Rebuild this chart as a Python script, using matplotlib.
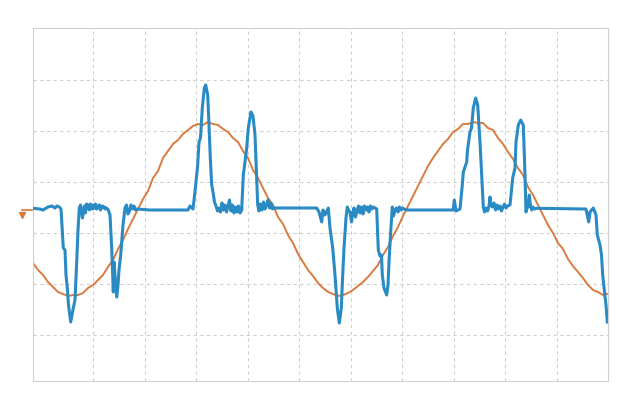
import numpy as np
import matplotlib
matplotlib.use("Agg")
import matplotlib.pyplot as plt

# Channel 1 (blue) : sample index / level (one row per stretch)
ch1_t = [0, 7, 10, 15, 19, 22, 24, 26.3, 28, 30.3, 32, 33, 34.3, 35.5, 37.7, 39, 40.3, 42, 43.7, 45,
         46.3, 47.5, 48.5, 49.5, 50.5, 51.5, 52.5, 53.5, 54.5, 55.5, 56.5, 57.5, 58.5, 59.5, 60.5,
         61.5, 62.5, 63.5, 64.5, 65.5, 66.5, 67.5, 68.5, 69.5, 70.5, 71.5, 72.5, 73.5, 75.3,
         77, 78.7, 79.5, 80.3, 81, 82, 83.7, 85, 86, 87.7, 90,
         92, 93.5, 95, 96.5, 98, 99.5, 101, 102.5, 104,
         117, 155, 157, 160,
         162.7, 164.7, 166, 167.5, 169.3, 171.3, 172.7, 174.7, 176, 177.3, 178.7,
         180, 181.5, 183, 184.5, 186, 187.5, 189, 190.5, 192, 193.5, 195, 196.5, 198, 199.5, 201,
         202.5, 204, 205.5, 207, 208.7,
         210.3, 212, 213.5, 215.3, 218, 220, 222, 223.5,
         224.7, 226, 227.5, 229, 230.5, 232, 233.5, 235, 236.5, 238, 239.5, 241,
         257, 283.7, 286, 288.7, 290, 292, 295.3,
         297, 299.7, 302, 304.3, 306.3, 308.3, 309.7, 311, 313,
         314.3, 315.5, 317, 318.5, 319.5, 321, 322.5, 324, 325.5, 327, 328.5, 330, 331.5, 333,
         334.5, 336, 337.5, 339, 340.5, 342, 343.7,
         345.3, 347, 348.5, 349.3, 351, 353.7, 355, 356, 357.5,
         359.3, 360.5, 362, 363.5, 365, 366.5, 368, 369.5, 371, 373.7,
         420.3, 421.3, 423, 427,
         429.3, 430.3, 433.7, 434.5, 437, 438.5, 440.3, 442.7, 444.7, 447, 448.7,
         450.3, 451.5, 453, 454.5, 456, 457, 458, 459.3, 461, 462.5, 464, 465.5, 467, 468.5, 470,
         471.5, 473, 474.5, 477,
         479.7, 482, 483, 485.3, 487.7, 490.3, 492,
         493, 494, 495, 496.3, 497.5, 498.7, 500, 501.5, 503.7,
         553, 555.7, 557, 560.3, 563, 564.3, 567, 568.5, 569.7, 571.5, 573, 574.3]
ch1_v = [-0.3, -1, -2, 1, 2, 0, 2, 1, -1, -40, -42, -67, -80, -97, -114, -107, -100, -92, -54, -22,
         0, 3, -4, -10, -2, 2, -5, 4, 0, 3, -2, 4, 1, -1, 3,
         0, 4, -1, 2, 0, 3, -2, 1, 2, 0, 1, -1, 0, -2,
         -7, -40, -62, -84, -54, -67, -89, -77, -62, -47, -17,
         0, 3, -6, -3, 3, -1, 2, -2, -1,
         -2, -2, 2, -1,
         23, 43, 66, 70, 100, 120, 123, 113, 83, 50, 23,
         16, 6, 2, -3, 0, -4, 5, -2, 3, -4, 2, 8, -3, 3, -5,
         1, -4, 2, -5, -2,
         33, 46, 58, 80, 96, 92, 73, 33,
         3, -3, 4, -2, 6, -1, 3, 8, 0, 5, -1, 0,
         0, 0, -4, -14, -2, -7, 0,
         -20, -40, -67, -100, -115, -100, -67, -40, -10,
         1, -2, -4, -14, -6, 0, -9, -3, 2, -5, 1, -6, 2, -2,
         1, -4, 2, -1, 1, 0, -1,
         -42, -48, -47, -67, -80, -87, -77, -54, -27,
         1, -8, -2, 0, -4, 1, -2, 0, -1, -2,
         -2, 8, -3, -1,
         23, 36, 46, 58, 76, 80, 100, 110, 103, 66, 33,
         1, -4, 0, -3, 2, 11, 3, 1, 5, -2, 3, -1, 2, -3, 1,
         4, 0, 2, 3,
         30, 40, 66, 83, 88, 83, 33,
         -4, 0, 1, 13, 2, -2, 1, -1, -0.3,
         -1, -14, -4, 0, -7, -27, -37, -47, -67, -84, -97, -114]

# Channel 2 (orange), one reading every 5 samples
ch2_t = list(range(0, 571, 5)) + [574]
ch2_v = [-55, -62, -67, -74, -79, -84, -86, -88, -87, -87,
         -85, -80, -77, -72, -67, -59, -52, -41, -32, -21,
         -11, -1, 9, 17, 30, 37, 50, 57, 64, 68,
         74, 78, 82, 84, 83, 86, 84, 83, 79, 76,
         70, 66, 57, 50, 38, 30, 20, 10, 3, -9,
         -16, -27, -35, -46, -54, -62, -68, -75, -80, -84,
         -86, -88, -87, -85, -82, -78, -74, -69, -63, -57,
         -47, -39, -28, -19, -8, 2, 12, 22, 32, 42,
         50, 57, 64, 69, 76, 79, 84, 84, 86, 85,
         85, 80, 78, 70, 64, 56, 49, 40, 33, 21,
         13, 3, -7, -17, -25, -35, -41, -51, -58, -64,
         -70, -77, -82, -84, -87, -86]

fig = plt.figure(figsize=(6.4, 4.11), dpi=100)
ax = fig.add_axes([33 / 640, 1 - 381 / 411, 575 / 640, 353 / 411])

ax.plot(ch2_t, ch2_v, color='#d97b3f', lw=1.4, zorder=2)
ax.plot(ch1_t, ch1_v, color='#2a8bc4', lw=2.2, zorder=3, solid_joinstyle='round')

# channel-2 ground marker outside the left edge
ax.plot([-11, 0], [-2, -2], color='#d97b3f', lw=1.2, clip_on=False)
ax.plot([-11], [-7], marker='v', ms=4, color='#d97b3f', clip_on=False)

ax.set_xlim(0, 575)
ax.set_ylim(-173, 180)
ax.set_xticks(np.arange(60, 575, 51.5))
ax.set_yticks([128, 77, 26, -25, -76, -127])
ax.tick_params(length=0, labelbottom=False, labelleft=False)
ax.grid(True, color='#cfcfcf', ls=(0, (3, 3)), lw=0.8)
for s in ax.spines.values():
    s.set_color('#d0d0d0')

fig.savefig('out.png', dpi=100)
